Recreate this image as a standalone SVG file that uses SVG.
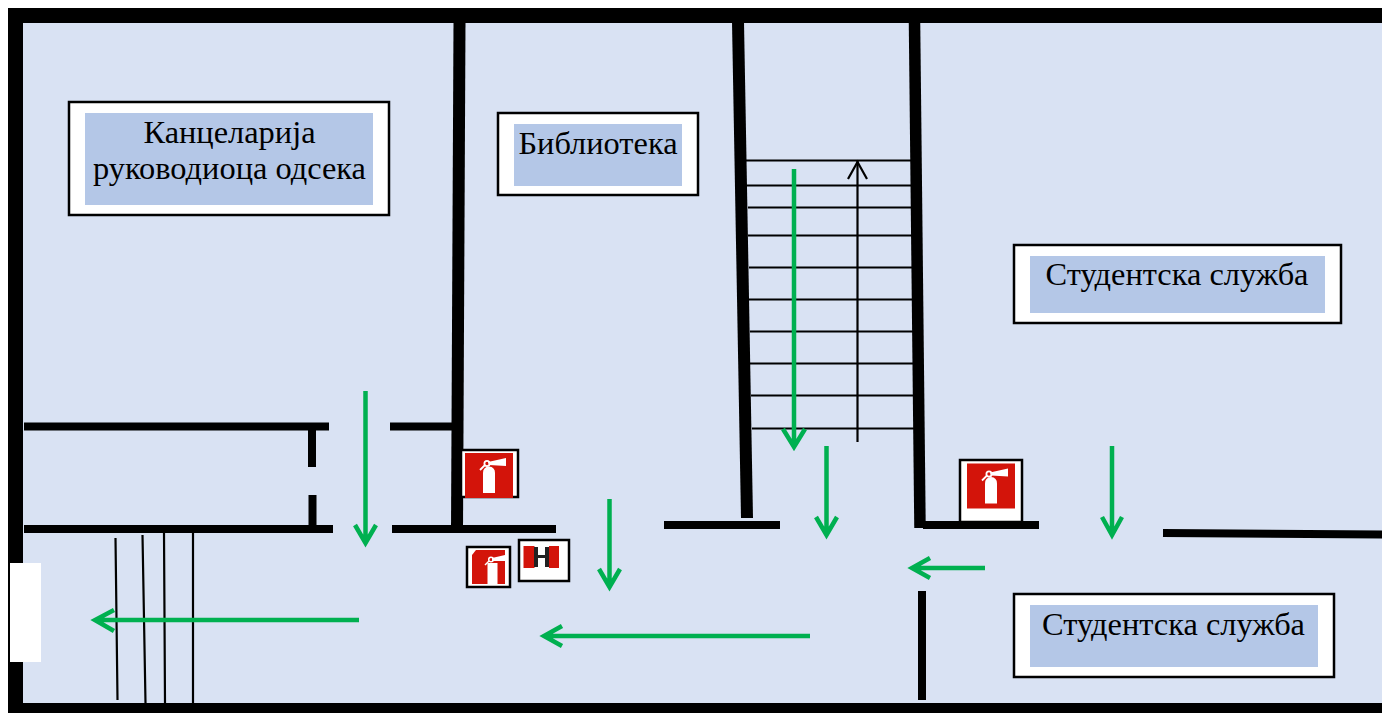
<svg xmlns="http://www.w3.org/2000/svg" width="1382" height="713" viewBox="0 0 1382 713">
<style>
.wall{stroke:#000;fill:none}
.stair{stroke:#000;stroke-width:2.2;fill:none}
.flow{stroke:#00b050;stroke-width:4.5;fill:none}
.frame{fill:#fff;stroke:#000;stroke-width:2.5}
.plate{fill:#b4c7e7}
.lbl{font-family:"Liberation Serif","Times New Roman",serif;font-size:32.4px;fill:#000;text-anchor:middle}
.red{fill:#d3140a}
.wh{fill:#fff}
</style>
<defs>
<g id="ext">
<rect class="red" x="0" y="0" width="48" height="45"/>
<path class="wh" d="M18 40V20Q18 14 24 13.500Q30 14 30 20V40z"/>
<circle cx="22" cy="10.500" r="2.600" fill="none" stroke="#fff" stroke-width="1.800"/>
<path class="wh" d="M23 9L41 5V13L24 12z"/>
<path d="M20 12L15 17" stroke="#fff" stroke-width="1.800" fill="none"/>
</g>
<clipPath id="cut"><path d="M472 555L476 550H505V584H472z"/></clipPath>
</defs>
<rect width="1382" height="713" fill="#fff"/>
<rect x="8" y="8" width="1374" height="705" fill="#d9e2f3"/>
<g id="building" class="wall">
<path d="M1382 15.500H15.500V708" stroke-width="15"/>
<path d="M8 708H1382" stroke-width="10"/>
<path d="M459.500 22L457 530" stroke-width="12"/>
<path d="M738 22L747 518" stroke-width="12"/>
<path d="M914.500 22L920 528" stroke-width="11.500"/>
<path d="M24 426.500H329M390 426.500H456M312 428V467M312.500 495V526" stroke-width="8"/>
<path d="M24 529H333M392 529H556" stroke-width="8"/>
<path d="M664 525H780M923 525H1039" stroke-width="8"/>
<path d="M1163 533L1382 534.500" stroke-width="8"/>
<path d="M922 591V700" stroke-width="8"/>
</g>
<rect id="exit-door" x="10" y="563" width="31" height="99" fill="#fff"/>
<g id="stairs-main" class="stair">
<path d="M746 160.500H911M746 185.500H912M748 207.500H912M748 235.500H912M749 267.500H913M749 299.500H913M750 331.500H913M750 363.500H914M751 395.500H914M752 428.500H915"/>
<path d="M857.500 161V442"/>
<path d="M848 179L857.500 162L867 179"/>
</g>
<g id="stairs-exit" class="stair">
<path d="M115.500 538L117.500 700M142.500 535L145.500 703M164 533L165 703M193 533V703"/>
</g>
<g id="connectors" class="flow">
<path d="M794 169V445M783 429L794 447L805 429"/>
<path d="M365.500 391V543M355 525L365.500 543L376 525"/>
<path d="M609.500 499V586M599 569L609.500 587L620 569"/>
<path d="M826.500 446V534M816 517L826.500 535L837 517"/>
<path d="M1112 446V534M1102 517L1112 535L1122 517"/>
<path d="M985 568H912M930 558L912 568L930 578"/>
<path d="M810 636H544M562 626L544 636L562 646"/>
<path d="M359 620H95M114 610L95 620L114 631"/>
</g>
<g id="node-office">
<rect class="frame" x="69" y="102" width="320" height="113"/>
<rect class="plate" x="85" y="113" width="288" height="92"/>
<text class="lbl" x="229.500" y="143">Канцеларија</text>
<text class="lbl" x="229.500" y="179">руководиоца одсека</text>
</g>
<g id="node-library">
<rect class="frame" x="498" y="113" width="200" height="82"/>
<rect class="plate" x="514" y="124" width="168" height="62"/>
<text class="lbl" x="598" y="154">Библиотека</text>
</g>
<g id="node-services-1">
<rect class="frame" x="1014" y="245" width="327" height="78"/>
<rect class="plate" x="1030" y="256" width="295" height="57"/>
<text class="lbl" x="1177" y="285">Студентска служба</text>
</g>
<g id="node-services-2">
<rect class="frame" x="1014" y="594" width="320" height="83"/>
<rect class="plate" x="1030" y="605" width="288" height="62"/>
<text class="lbl" x="1173.500" y="635">Студентска служба</text>
</g>
<g id="ext-1">
<rect class="frame" x="461" y="450" width="57" height="47"/>
<use href="#ext" x="465" y="453"/>
</g>
<g id="ext-2">
<rect class="frame" x="467" y="547" width="43" height="40"/>
<g clip-path="url(#cut)">
<rect class="red" x="472" y="550" width="33" height="34"/>
<rect class="wh" x="487.500" y="563" width="10" height="21"/>
<circle cx="491" cy="559.500" r="2.300" fill="none" stroke="#fff" stroke-width="1.500"/>
<path class="wh" d="M492 558L505 555V561L492 561z"/>
<path d="M489 561L485 565" stroke="#fff" stroke-width="1.500" fill="none"/>
</g>
</g>
<g id="hydrant">
<rect class="frame" x="519" y="540" width="50" height="41"/>
<rect class="red" x="523.500" y="546" width="11" height="22"/>
<rect class="red" x="549" y="546" width="10" height="22"/>
<rect x="534" y="547" width="4" height="20" fill="#222"/>
<rect x="545" y="547" width="4" height="20" fill="#222"/>
<rect x="538" y="555" width="7" height="3" fill="#222"/>
</g>
<g id="ext-3">
<rect class="frame" x="960" y="460" width="62" height="62"/>
<use href="#ext" x="967" y="463.500"/>
</g>
</svg>
